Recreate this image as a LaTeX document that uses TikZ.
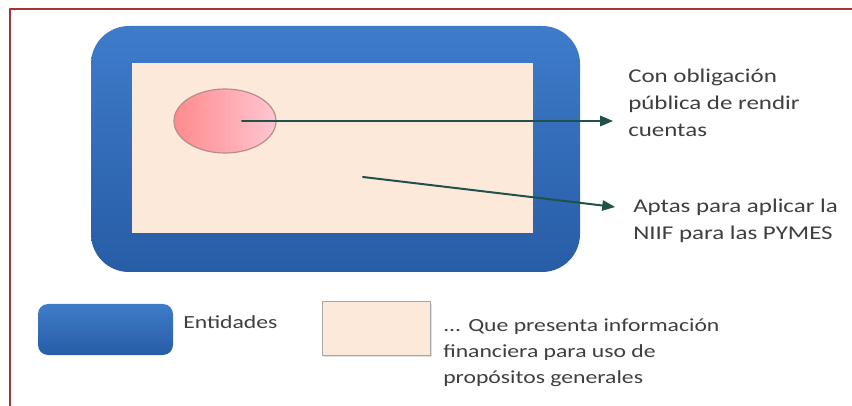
\documentclass[tikz,border=0pt]{standalone}
\usepackage{fontspec}
\setmainfont{Carlito}
\usetikzlibrary{arrows}
\usetikzlibrary{shapes.geometric}
\usetikzlibrary{shadows}
\definecolor{borderred}{RGB}{168,52,50}
\definecolor{blueup}{RGB}{62,124,202}
\definecolor{bluedown}{RGB}{40,92,166}
\definecolor{peach}{RGB}{253,233,218}
\definecolor{pinkdark}{RGB}{255,138,142}
\definecolor{pinklight}{RGB}{255,198,208}
\definecolor{pinkline}{RGB}{184,140,140}
\definecolor{tealline}{RGB}{30,82,74}
\definecolor{txtgray}{RGB}{62,62,62}

\tikzset{
  bigtxt/.style={font=\fontsize{19.5}{27}\selectfont, text=txtgray, align=left, inner sep=0pt, xscale=1.28, transform shape},
  legtxt/.style={font=\fontsize{18.5}{26}\selectfont, text=txtgray, align=left, inner sep=0pt, xscale=1.28, transform shape},
  bluebox/.style={top color=blueup, bottom color=bluedown, draw=none},
  peachbox/.style={fill=peach, draw=none},
  arr/.style={->, line width=2pt, color=tealline}
}

\begin{document}
\begin{tikzpicture}[line cap=round,line join=round,>=triangle 45,x=1pt,y=-1pt]
\useasboundingbox (0,0) rectangle (852,406);
% frame
\draw[line width=2.5pt, color=borderred, line cap=butt] (852,9) -- (10,9) -- (10,406);
% entidades with the inner area
\shade[bluebox, rounded corners=38pt] (91,26) rectangle (580,272);
\fill[peachbox] (132,63) rectangle (533,233);
\node[ellipse, minimum width=102pt, minimum height=64pt, inner sep=0pt,
  shading angle=120, left color=pinkdark, right color=pinklight, draw=pinkline, line width=1.2pt] (pub) at (225,121) {};
\coordinate (pubs) at (242,121);
\coordinate (pube) at (613,121);
\coordinate (apts) at (363,177);
\coordinate (apte) at (615,207);
% base of a multi-line node = baseline of its last line
\node[bigtxt, anchor=base west] (obl) at (628,137) {Con obligación\\pública de rendir\\cuentas};
\node[bigtxt, anchor=base west] (apt) at (633,240) {Aptas para aplicar la\\NIIF para las PYMES};
\draw[arr] (pubs) -- (pube);
\draw[arr] (apts) -- (apte);
% legend
\shade[bluebox, rounded corners=10pt] (38,304) rectangle (173,355);
\node[legtxt, anchor=base west] (ent) at (183,328) {Entidades};
\fill[black!12] (324,304) rectangle (432,357);
\filldraw[fill=peach, draw=black!35, line width=1pt] (322,302) rectangle (430,355);
\node[legtxt, anchor=base west] (inf) at (443,383) {... Que presenta información\\financiera para uso de\\propósitos generales};
\end{tikzpicture}
\end{document}
